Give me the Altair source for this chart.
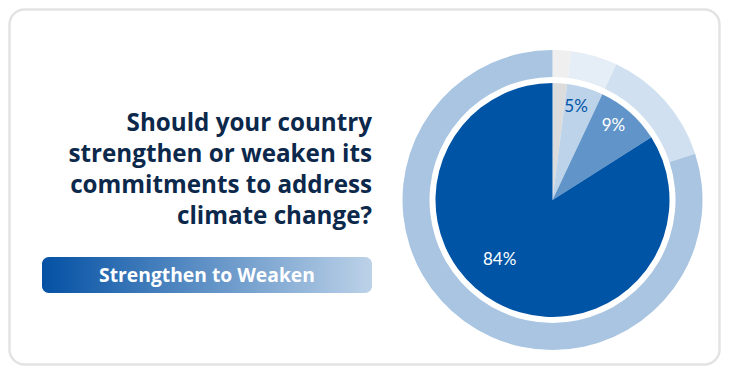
import altair as alt
import pandas as pd

# ---- data ----
categories = ["Unsure", "Weaken", "Maintain", "Strengthen"]
inner_values = [2, 5, 9, 84]          # inner pie (labelled)
outer_values = [2, 5, 13, 80]         # outer ring
inner_labels = ["", "5%", "9%", "84%"]
inner_colors = ["#dcdcdc", "#bdd3ea", "#6195c9", "#0054a6"]
outer_colors = ["#efefef", "#e5edf6", "#d0e0f0", "#a9c5e2"]
title_lines = [
    "Should your country",
    "strengthen or weaken its",
    "commitments to address",
    "climate change?",
]
button_text = "Strengthen to Weaken"

rows = []
for i, c in enumerate(categories):
    rows.append({"ring": "inner", "category": c, "key": "inner-" + c,
                 "value": inner_values[i], "order": i, "label": inner_labels[i]})
    rows.append({"ring": "outer", "category": c, "key": "outer-" + c,
                 "value": outer_values[i], "order": i, "label": ""})
df = pd.DataFrame(rows)

keys = ["inner-" + c for c in categories] + ["outer-" + c for c in categories]
key_colors = inner_colors + outer_colors

W, H = 713, 358
CX, CY = 544.5, 192

one = alt.Data(values=[{}])

card = alt.Chart(one).mark_rect(
    fill="white", stroke="#e3e3e3", strokeWidth=2.5, cornerRadius=15
).encode(x=alt.value(1.5), x2=alt.value(711.5), y=alt.value(1.5), y2=alt.value(356.5))

title = alt.Chart(one).mark_text(
    align="right", baseline="alphabetic", font="Open Sans", fontWeight="bold",
    fontSize=24.2, lineHeight=31, color="#0c284b", lineBreak="\n"
).encode(x=alt.value(364), y=alt.value(123), text=alt.value("\n".join(title_lines)))

button = alt.Chart(one).mark_rect(
    cornerRadius=7,
    fill=alt.Gradient(
        gradient="linear",
        stops=[alt.GradientStop(color="#0451a4", offset=0),
               alt.GradientStop(color="#bcd2e8", offset=1)],
        x1=0, x2=1, y1=0, y2=0,
    ),
).encode(x=alt.value(34), x2=alt.value(364), y=alt.value(249), y2=alt.value(285))

button_label = alt.Chart(one).mark_text(
    align="center", baseline="alphabetic", font="Open Sans", fontWeight="bold",
    fontSize=19.3, color="white"
).encode(x=alt.value(199), y=alt.value(273.8), text=alt.value(button_text))

base = alt.Chart(df).encode(
    theta=alt.Theta("value:Q", stack=True),
    order=alt.Order("order:Q"),
    x=alt.value(CX), y=alt.value(CY),
)
color_enc = alt.Color("key:N", scale=alt.Scale(domain=keys, range=key_colors), legend=None)

outer = base.mark_arc(outerRadius=150, innerRadius=123, stroke=None).encode(
    color=color_enc).transform_filter(alt.datum.ring == "outer")
inner = base.mark_arc(outerRadius=117, stroke=None).encode(
    color=color_enc).transform_filter(alt.datum.ring == "inner")

# label layers: cumulative position of each inner slice, then pick slices
label_base = alt.Chart(df).transform_filter(
    alt.datum.ring == "inner"
).transform_window(
    cum="sum(value)", sort=[alt.SortField("order")], frame=[None, 0]
).transform_calculate(
    mid="datum.cum - datum.value / 2"
).encode(
    theta=alt.Theta("mid:Q", stack=None),
    x=alt.value(CX), y=alt.value(CY),
    text="label:N",
)

small_labels = label_base.mark_text(
    radius=96, thetaOffset=-0.035, font="Lato", fontSize=17, baseline="middle", align="center"
).encode(
    color=alt.condition(alt.datum.category == "Weaken", alt.value("#0054a6"), alt.value("white")),
).transform_filter(alt.FieldOneOfPredicate(field="category", oneOf=["Weaken", "Maintain"]))

big_label = label_base.mark_text(
    radius=80, thetaOffset=0.22, font="Lato", fontSize=17, baseline="middle", align="center",
    color="white"
).transform_filter(alt.datum.category == "Strengthen")

chart = alt.layer(card, title, button, button_label, outer, inner, small_labels, big_label).properties(
    width=W, height=H, padding=0, background="white"
).configure_view(strokeWidth=0)

chart.save("out.html", embed_options={"renderer": "svg", "actions": False})
